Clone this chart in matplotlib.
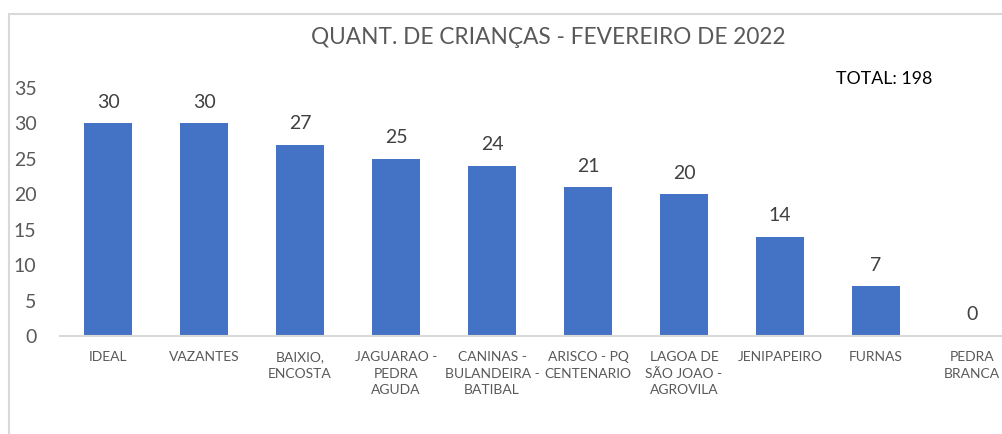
"""Quantidade de criancas por localidade - fevereiro de 2022."""

import matplotlib
matplotlib.use('Agg')
import matplotlib.pyplot as plt
from matplotlib.patches import Rectangle

localidades = ['IDEAL', 'VAZANTES', 'BAIXIO,\nENCOSTA', 'JAGUARAO -\nPEDRA\nAGUDA',
               'CANINAS -\nBULANDEIRA -\nBATIBAL', 'ARISCO - PQ\nCENTENARIO',
               'LAGOA DE\nSÃO JOAO -\nAGROVILA', 'JENIPAPEIRO', 'FURNAS', 'PEDRA\nBRANCA']
criancas = [30, 30, 27, 25, 24, 21, 20, 14, 7, 0]
y_ticks = [0, 5, 10, 15, 20, 25, 30, 35]
titulo = 'QUANT. DE CRIANÇAS - FEVEREIRO DE 2022'
total = 'TOTAL: 198'

plt.rcParams['font.family'] = ['Lato', 'DejaVu Sans']
W, H = 1003, 434
fig = plt.figure(figsize=(W / 100, H / 100), dpi=100)

# moldura cinza do grafico (cortada a direita e embaixo)
fig.patches.append(Rectangle((9 / W, -0.1), 1.2, 1 - 14 / H + 0.1,
                             transform=fig.transFigure, fill=False,
                             edgecolor='#d9d9d9', linewidth=1.5))

ax = fig.add_axes([60 / W, 1 - 336 / H, 960 / W, 248 / H])
x = range(len(criancas))
bars = ax.bar(x, criancas, width=0.5, color='#4472c4')
ax.bar_label(bars, padding=9, fontsize=14, color='#404040')

ax.set_xlim(-0.5, len(criancas) - 0.5)
ax.set_ylim(0, 35)
ax.set_yticks(y_ticks)
ax.set_xticks(list(x))
ax.set_xticklabels(localidades, fontsize=10, color='#595959', linespacing=1.45)
ax.tick_params(axis='y', length=0, pad=17, labelsize=14, labelcolor='#595959')
ax.tick_params(axis='x', length=0, pad=11)
for s in ['top', 'right', 'left']:
    ax.spines[s].set_visible(False)
ax.spines['bottom'].set_color('#d9d9d9')
ax.spines['bottom'].set_linewidth(1.5)

fig.text(548 / W, 1 - 37 / H, titulo, ha='center', va='center',
         fontsize=16.3, color='#595959')
fig.text(884 / W, 1 - 79 / H, total, ha='center', va='center',
         fontsize=12.8, color='black')

fig.savefig('out.png', dpi=100)
